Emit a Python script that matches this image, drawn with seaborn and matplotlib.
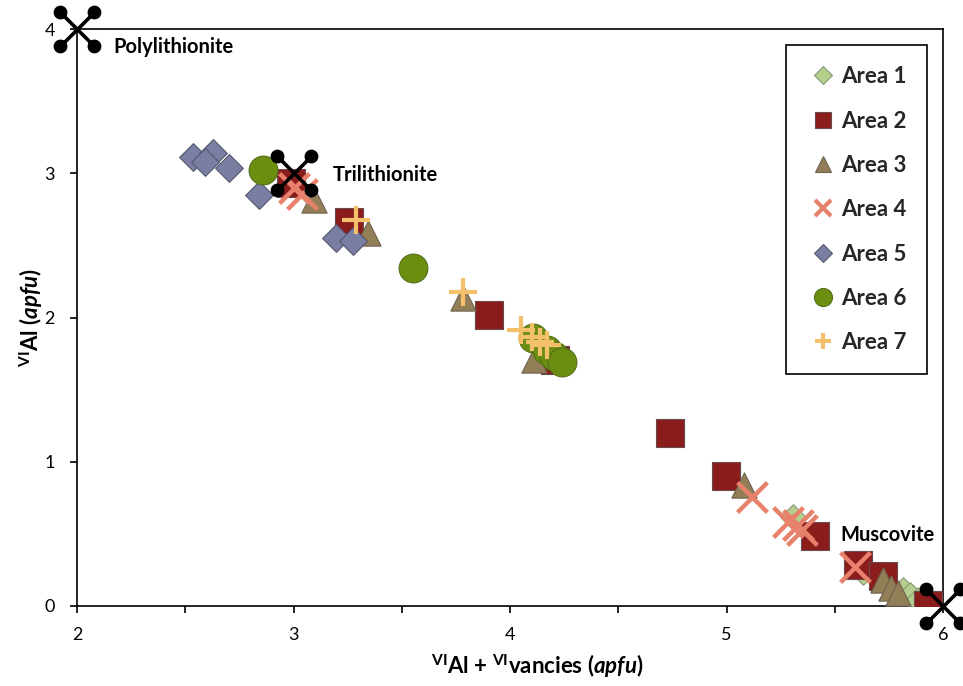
import numpy as np
import pandas as pd
import matplotlib
matplotlib.use("Agg")
import matplotlib.pyplot as plt
import seaborn as sns
from matplotlib.path import Path
from matplotlib.lines import Line2D
from matplotlib.ticker import MultipleLocator

# ---------------- data ----------------
area1_x = [5.305, 5.629, 5.815, 5.847, 5.884]
area1_y = [0.617, 0.236, 0.111, 0.076, 0.042]

area2_x = [2.987, 3.256, 3.905, 4.206, 4.739, 4.999, 5.411, 5.606, 5.722, 5.930]
area2_y = [2.932, 2.662, 2.017, 1.705, 1.199, 0.901, 0.485, 0.284, 0.208, 0.007]

area3_x = [3.094, 3.344, 3.784, 4.109, 5.082, 5.722, 5.759, 5.791]
area3_y = [2.815, 2.586, 2.135, 1.705, 0.839, 0.180, 0.125, 0.090]

area4_x = [3.001, 3.038, 5.119, 5.282, 5.328, 5.351, 5.592]
area4_y = [2.898, 2.856, 0.756, 0.582, 0.562, 0.527, 0.270]

area5_x = [2.538, 2.630, 2.593, 2.700, 2.839, 3.196, 3.275]
area5_y = [3.113, 3.140, 3.078, 3.037, 2.849, 2.551, 2.530]

area6_x = [2.857, 3.553, 4.104, 4.169, 4.202, 4.239]
area6_y = [3.022, 2.343, 1.858, 1.775, 1.733, 1.692]

area7_x = [3.289, 3.784, 4.053, 4.100, 4.137, 4.169]
area7_y = [2.676, 2.177, 1.913, 1.865, 1.830, 1.809]

series_names = ["Area 1", "Area 2", "Area 3", "Area 4", "Area 5", "Area 6", "Area 7"]

endmember_names = ["Polylithionite", "Trilithionite", "Muscovite"]
endmember_x = [2, 3, 6]
endmember_y = [4, 3, 0]

x_ticks = [2, 3, 4, 5, 6]
y_ticks = [0, 1, 2, 3, 4]

# ---------------- style ----------------
sns.set_theme(style="white")
plt.rcParams["font.family"] = ["Lato", "DejaVu Sans"]
plt.rcParams["mathtext.fontset"] = "custom"
plt.rcParams["mathtext.rm"] = "Lato"
plt.rcParams["mathtext.bf"] = "Lato:bold"
plt.rcParams["mathtext.it"] = "Lato:italic"
plt.rcParams["mathtext.bfit"] = "Lato:italic:bold"

fig = plt.figure(figsize=(9.63, 6.86), dpi=100)
ax = fig.add_axes([77 / 963, 1 - 606 / 686, (943 - 77) / 963, (606 - 29) / 686])

styles = [
    dict(marker="D", s=170, color="#b4cf8c", edgecolor="#8a9a78", linewidth=0.8),
    dict(marker="s", s=380, color="#8b1c1c", edgecolor="#6a4a4a", linewidth=0.8),
    dict(marker="^", s=330, color="#927f57", edgecolor="#6e6250", linewidth=0.8),
    dict(marker="x", s=460, color="#e8816b", linewidth=3.2),
    dict(marker="D", s=200, color="#7b7ea3", edgecolor="#55586e", linewidth=0.8),
    dict(marker="o", s=430, color="#6b8e10", edgecolor="#55701a", linewidth=0.8),
    dict(marker="+", s=380, color="#f5c06c", linewidth=3.0),
]

all_x = [area1_x, area2_x, area3_x, area4_x, area5_x, area6_x, area7_x]
all_y = [area1_y, area2_y, area3_y, area4_y, area5_y, area6_y, area7_y]

for name, xs, ys, st in zip(series_names, all_x, all_y, styles):
    df = pd.DataFrame({"x": xs, "y": ys})
    sns.scatterplot(data=df, x="x", y="y", ax=ax, legend=False, zorder=3, **st)

# end-member marker: X with dots at the ends
lines = Path([(-1, -1), (1, 1), (-1, 1), (1, -1)],
             [Path.MOVETO, Path.LINETO, Path.MOVETO, Path.LINETO])
dots = [Path.circle((cx, cy), 0.3) for cx in (-1, 1) for cy in (-1, 1)]
em_path = Path.make_compound_path(lines, *dots)

em_df = pd.DataFrame({"x": endmember_x, "y": endmember_y, "name": endmember_names})
ax.scatter(em_df["x"], em_df["y"], marker=em_path, s=1010, facecolor="black",
           edgecolor="black", linewidth=2.6, zorder=6, clip_on=False)

label_offsets = {"Polylithionite": (36, -18, "left"),
                 "Trilithionite": (39, -2, "left"),
                 "Muscovite": (-103, 71, "left")}
for _, r in em_df.iterrows():
    dx, dy, ha = label_offsets[r["name"]]
    ax.annotate(r["name"], (r["x"], r["y"]), xytext=(dx, dy), textcoords="offset pixels",
                ha=ha, va="center", fontsize=14.5, fontweight="bold", color="black", zorder=7)

ax.set_xlim(2, 6)
ax.set_ylim(0, 4)
ax.set_xticks(x_ticks)
ax.set_yticks(y_ticks)
ax.xaxis.set_minor_locator(MultipleLocator(0.5))
ax.set_xticklabels([str(t) for t in x_ticks], fontsize=13)
ax.set_yticklabels([str(t) for t in y_ticks], fontsize=13)
ax.tick_params(axis="both", which="both", direction="out", length=5, width=1.2, color="black",
               labelcolor="black", bottom=True, left=True)
ax.tick_params(axis="x", which="major", pad=10)
ax.tick_params(axis="y", which="major", pad=11)
for sp in ax.spines.values():
    sp.set_color("black")
    sp.set_linewidth(1.2)

ax.set_xlabel(r"$^{\mathbf{VI}}$Al + $^{\mathbf{VI}}$vancies ($\mathbfit{apfu}$)",
              fontsize=16, fontweight="bold", color="black")
ax.xaxis.set_label_coords(0.532, -0.08)
ax.set_ylabel(r"$^{\mathbf{VI}}$Al ($\mathbfit{apfu}$)", fontsize=16,
              fontweight="bold", color="black")
ax.yaxis.set_label_coords(-0.037, 0.5)

handles = []
for name, st in zip(series_names, styles):
    filled = st["marker"] not in ("x", "+")
    ms = {"D": 9, "s": 12, "^": 12, "x": 12, "o": 13, "+": 11}[st["marker"]]
    h = Line2D([], [], linestyle="none", marker=st["marker"], markersize=ms,
               markerfacecolor=st["color"],
               markeredgecolor=st.get("edgecolor", st["color"]) if filled else st["color"],
               markeredgewidth=0.8 if filled else 3.0, label=name)
    handles.append(h)

leg = ax.legend(handles=handles, loc="upper right", bbox_to_anchor=(0.982, 0.972),
                frameon=True, fancybox=False, edgecolor="black", framealpha=1,
                prop={"weight": "bold", "size": 16}, labelspacing=1.05,
                handlelength=1.4, handletextpad=0.1, borderpad=0.95, borderaxespad=0)
leg.get_frame().set_linewidth(1.2)
leg.set_zorder(10)

fig.savefig("out.png", dpi=100, facecolor="white")
